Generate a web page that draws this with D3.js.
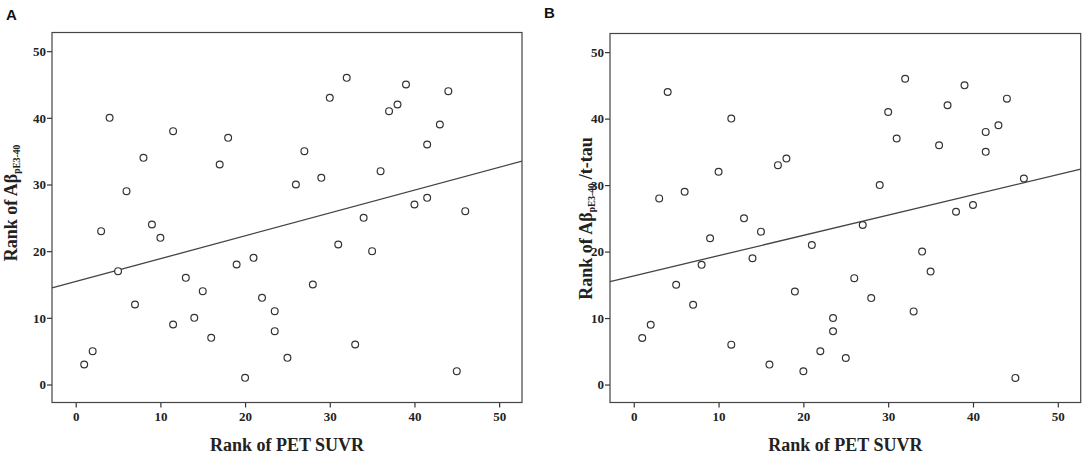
<!DOCTYPE html>
<html>
<head>
<meta charset="utf-8">
<script src="https://cdn.jsdelivr.net/npm/d3@7/dist/d3.min.js"></script>
<style>
  body { margin: 0; background: #fff; }
  svg { display: block; }
</style>
</head>
<body>
<div id="chart"></div>
<script>
// Rank of PET SUVR (x) for each subject, panel A
const petRankA = [1, 2, 3, 4, 5, 6, 7, 8, 9, 10, 11.5, 11.5, 13, 14, 15, 16, 17, 18, 19, 20, 21, 22, 23.5, 23.5,
  25, 26, 27, 28, 29, 30, 31, 32, 33, 34, 35, 36, 37, 38, 39, 40, 41.5, 41.5, 43, 44, 45, 46];
// Rank of Abeta pE3-40
const abetaRank = [3, 5, 23, 40, 17, 29, 12, 34, 24, 22, 38, 9, 16, 10, 14, 7, 33, 37, 18, 1, 19, 13, 11, 8,
  4, 30, 35, 15, 31, 43, 21, 46, 6, 25, 20, 32, 41, 42, 45, 27, 36, 28, 39, 44, 2, 26];

// panel B
const petRankB = [1, 2, 3, 4, 5, 6, 7, 8, 9, 10, 11.5, 11.5, 13, 14, 15, 16, 17, 18, 19, 20, 21, 22, 23.5, 23.5,
  25, 26, 27, 28, 29, 30, 31, 32, 33, 34, 35, 36, 37, 38, 39, 40, 41.5, 41.5, 43, 44, 45, 46];
// Rank of Abeta pE3-40 / t-tau
const ratioRank = [7, 9, 28, 44, 15, 29, 12, 18, 22, 32, 40, 6, 25, 19, 23, 3, 33, 34, 14, 2, 21, 5, 10, 8,
  4, 16, 24, 13, 30, 41, 37, 46, 11, 20, 17, 36, 42, 26, 45, 27, 38, 35, 39, 43, 1, 31];

const tickValues = [0, 10, 20, 30, 40, 50];

const W = 1084, H = 454;
const svg = d3.select("#chart").append("svg")
  .attr("width", W)
  .attr("height", H);

const serif = '"Liberation Serif", "Times New Roman", serif';

function linearFit(xs, ys) {
  const mx = d3.mean(xs), my = d3.mean(ys);
  let sxy = 0, sxx = 0;
  xs.forEach((x, i) => { sxy += (x - mx) * (ys[i] - my); sxx += (x - mx) * (x - mx); });
  const b = sxy / sxx;
  return { a: my - b * mx, b: b };
}

function styleAxis(sel) {
  sel.select(".domain").remove();
  sel.attr("font-family", serif)
    .attr("font-size", 13)
    .attr("font-weight", "bold");
  sel.selectAll(".tick text").attr("fill", "#222");
  sel.selectAll(".tick line").attr("stroke", "#333").attr("stroke-width", 1.2);
}

function drawPanel(opts) {
  const { left, top, width, height, xs, ys, letter, letterX, letterY, ylabelX, ylabelY, extra } = opts;

  const x = d3.scaleLinear().domain([-2.8, 52.7]).range([left, left + width]);
  const y = d3.scaleLinear().domain([-2.7, 52.8]).range([top + height, top]);

  const g = svg.append("g");

  // panel letter
  g.append("text")
    .attr("x", letterX).attr("y", letterY)
    .attr("font-family", "Arial, 'Liberation Sans', sans-serif")
    .attr("font-weight", "bold")
    .attr("font-size", 15)
    .attr("fill", "#111")
    .text(letter);

  // axes
  g.append("g")
    .attr("transform", `translate(0,${top + height})`)
    .call(d3.axisBottom(x).tickValues(tickValues).tickSize(5).tickPadding(4))
    .call(styleAxis);

  g.append("g")
    .attr("transform", `translate(${left},0)`)
    .call(d3.axisLeft(y).tickValues(tickValues).tickSize(5).tickPadding(1))
    .call(styleAxis);

  // frame
  g.append("rect")
    .attr("x", left).attr("y", top)
    .attr("width", width).attr("height", height)
    .attr("fill", "none")
    .attr("stroke", "#444")
    .attr("stroke-width", 1.2);

  // fit line
  const fit = linearFit(xs, ys);
  const xd = x.domain();
  g.append("line")
    .attr("x1", x(xd[0])).attr("y1", y(fit.a + fit.b * xd[0]))
    .attr("x2", x(xd[1])).attr("y2", y(fit.a + fit.b * xd[1]))
    .attr("stroke", "#444")
    .attr("stroke-width", 1.3);

  // points
  g.selectAll("circle.pt")
    .data(xs.map((v, i) => [v, ys[i]]))
    .join("circle")
    .attr("class", "pt")
    .attr("cx", d => x(d[0]))
    .attr("cy", d => y(d[1]))
    .attr("r", 3.4)
    .attr("fill", "#fff")
    .attr("stroke", "#333")
    .attr("stroke-width", 1.2);

  // x label
  g.append("text")
    .attr("x", left + width / 2)
    .attr("y", 451)
    .attr("text-anchor", "middle")
    .attr("font-family", serif)
    .attr("font-weight", "bold")
    .attr("font-size", 18)
    .attr("fill", "#222")
    .text("Rank of PET SUVR");

  // y label
  const yl = g.append("text")
    .attr("transform", `translate(${ylabelX},${ylabelY}) rotate(-90)`)
    .attr("text-anchor", "middle")
    .attr("font-family", serif)
    .attr("font-weight", "bold")
    .attr("font-size", 18)
    .attr("fill", "#222");
  yl.append("tspan").text("Rank of A\u03B2");
  yl.append("tspan").attr("font-size", 9.5).attr("dy", 3).text("pE3-40");
  if (extra) {
    yl.append("tspan").attr("dy", -3).attr("dx", 4).text(extra);
  }
}

drawPanel({
  left: 52, top: 32.5, width: 470, height: 370,
  xs: petRankA, ys: abetaRank,
  letter: "A", letterX: 6, letterY: 19.5,
  ylabelX: 16.5, ylabelY: 203
});

drawPanel({
  left: 610, top: 33.5, width: 470.7, height: 369,
  xs: petRankB, ys: ratioRank,
  letter: "B", letterX: 544, letterY: 18,
  ylabelX: 591.5, ylabelY: 218.5,
  extra: "/t-tau"
});
</script>
</body>
</html>
